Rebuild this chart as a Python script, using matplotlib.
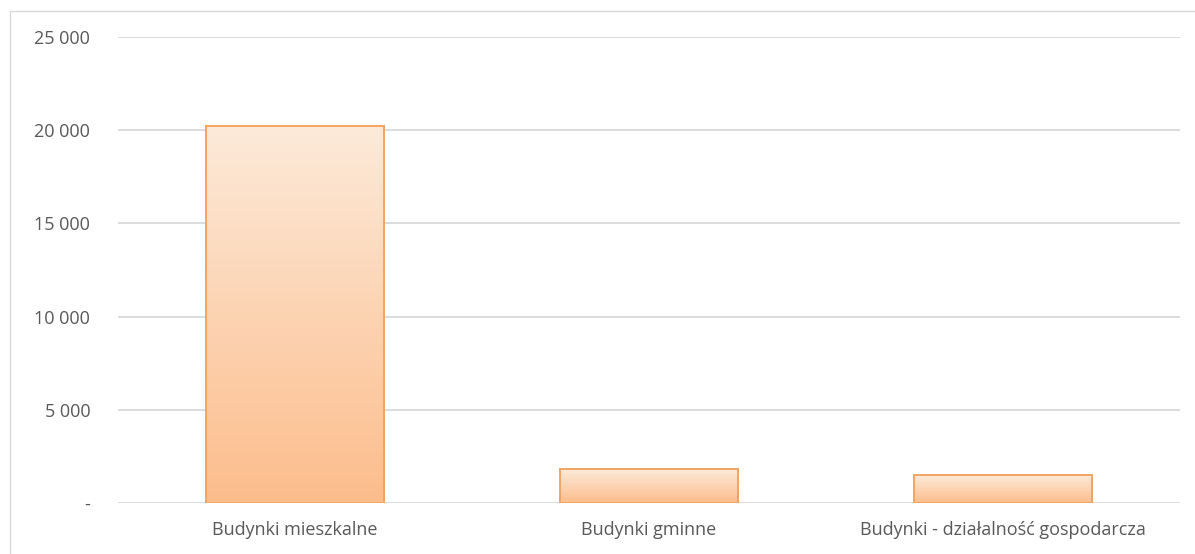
import numpy as np
import matplotlib
matplotlib.use("Agg")
import matplotlib.pyplot as plt
from matplotlib.colors import LinearSegmentedColormap
from matplotlib.patches import Rectangle
from matplotlib.ticker import FuncFormatter

categories = ["Budynki mieszkalne", "Budynki gminne", "Budynki - działalność gospodarcza"]
values = [20200, 1820, 1480]
yticks = [0, 5000, 10000, 15000, 20000, 25000]

W, H = 1195, 554
fig = plt.figure(figsize=(W / 100, H / 100), dpi=100)
fig.set_facecolor("white")

# outer chart frame (cut off at right/bottom in the original)
fig.add_artist(Rectangle((10 / W, -0.1), 1.2, (H - 11) / H + 0.1,
                         transform=fig.transFigure, fill=False,
                         edgecolor="#d9d9d9", linewidth=1.0))

ax = fig.add_axes([118 / W, 1 - 503 / H, (1180 - 118) / W, (503 - 37) / H])
ax.set_facecolor("white")

x = np.arange(len(categories))
bars = ax.bar(x, values, width=0.505, facecolor="none",
              edgecolor="#f4a460", linewidth=1.4, zorder=3)

# vertical gradient inside each bar
grad = LinearSegmentedColormap.from_list("peach", ["#fcbd8c", "#fdead9"])
g = np.linspace(0, 1, 256).reshape(-1, 1)
for b in bars:
    x0, w, h = b.get_x(), b.get_width(), b.get_height()
    im = ax.imshow(g, cmap=grad, origin="lower", aspect="auto",
                   extent=[x0, x0 + w, 0, h], zorder=2)
    im.set_clip_path(b)

ax.set_xlim(-0.5, len(categories) - 0.5)
ax.set_ylim(0, 25000)
ax.set_yticks(yticks)
ax.set_xticks(x)
ax.set_xticklabels(categories)

def fmt(v, pos):
    if v == 0:
        return "-"
    return f"{int(v):,}".replace(",", " ")

ax.yaxis.set_major_formatter(FuncFormatter(fmt))
ax.grid(axis="y", color="#d9d9d9", linewidth=1.3, zorder=0)
ax.set_axisbelow(True)
for s in ax.spines.values():
    s.set_visible(False)

ax.tick_params(axis="both", length=0, colors="#595959", labelsize=13)
ax.tick_params(axis="y", pad=20)
ax.tick_params(axis="x", pad=13)
for lbl in ax.get_xticklabels() + ax.get_yticklabels():
    lbl.set_family(["Open Sans", "DejaVu Sans"])
    lbl.set_color("#595959")

fig.savefig("out.png", dpi=100, facecolor="white")
